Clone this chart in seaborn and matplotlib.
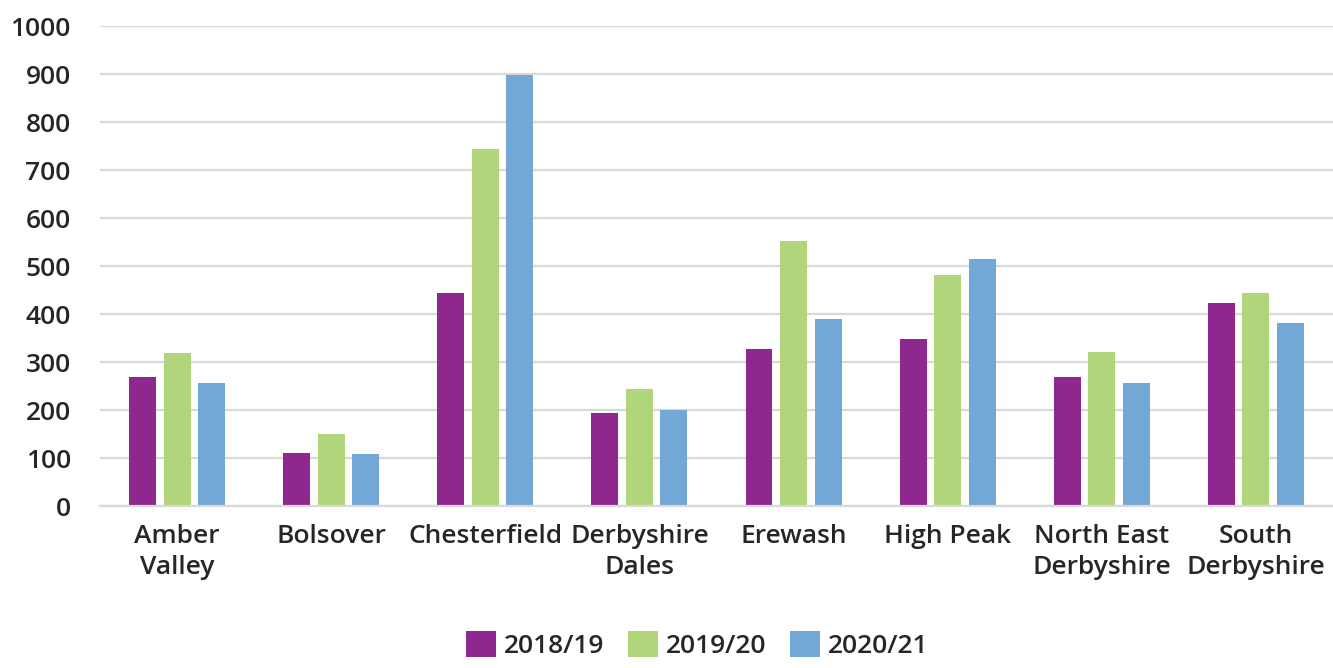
import numpy as np
import matplotlib
matplotlib.use("Agg")
import matplotlib.pyplot as plt
import seaborn as sns
import pandas as pd

districts = ["Amber\nValley", "Bolsover", "Chesterfield", "Derbyshire\nDales",
             "Erewash", "High Peak", "North East\nDerbyshire", "South\nDerbyshire"]
years = ["2018/19", "2019/20", "2020/21"]
v_2018 = [268, 111, 444, 194, 327, 347, 268, 424]
v_2019 = [318, 149, 744, 243, 552, 481, 320, 443]
v_2020 = [257, 109, 899, 201, 389, 514, 257, 381]
colors = ["#8E278E", "#B0D57A", "#71A8D5"]

sns.set_theme(style="white")
plt.rcParams['font.family'] = ['Open Sans', 'DejaVu Sans']

df = pd.DataFrame({
    "district": districts * 3,
    "year": np.repeat(years, len(districts)),
    "value": v_2018 + v_2019 + v_2020,
})

fig = plt.figure(figsize=(13.33, 6.68), dpi=100)
ax = fig.add_axes([0.075, 0.2425, 0.925, 0.7185])

sns.barplot(data=df, x="district", y="value", hue="year", palette=colors,
            width=0.672, gap=0.22, ax=ax, legend=True, saturation=1,
            edgecolor="none")

ax.set_ylim(0, 1000)
ax.set_xlim(-0.5, len(districts) - 0.5)
ax.set_yticks(range(0, 1001, 100))
ax.yaxis.grid(True, color="#D9D9D9", linewidth=1.6)
ax.set_axisbelow(True)
for s in ["top", "right", "left"]:
    ax.spines[s].set_visible(False)
ax.spines["bottom"].set_color("#D9D9D9")
ax.spines["bottom"].set_linewidth(1.6)
ax.set_xlabel("")
ax.set_ylabel("")
ax.tick_params(axis="y", length=0, pad=21, labelsize=19, labelcolor="#262626")
ax.tick_params(axis="x", length=0, pad=13, labelsize=19, labelcolor="#262626")
for lbl in ax.get_yticklabels():
    lbl.set_fontweight("semibold")
for lbl in ax.get_xticklabels():
    lbl.set_fontweight("semibold")
    lbl.set_linespacing(1.3)
    lbl.set_verticalalignment("top")

handles, labels = ax.get_legend_handles_labels()
ax.get_legend().remove()
fig.legend(handles, labels, loc="lower center", bbox_to_anchor=(0.523, -0.022),
           ncol=3, frameon=False, handlelength=1.14, handleheight=1.14,
           handletextpad=0.3, columnspacing=0.9,
           prop={"size": 19, "weight": "semibold"})

fig.savefig("out.png", dpi=100)
